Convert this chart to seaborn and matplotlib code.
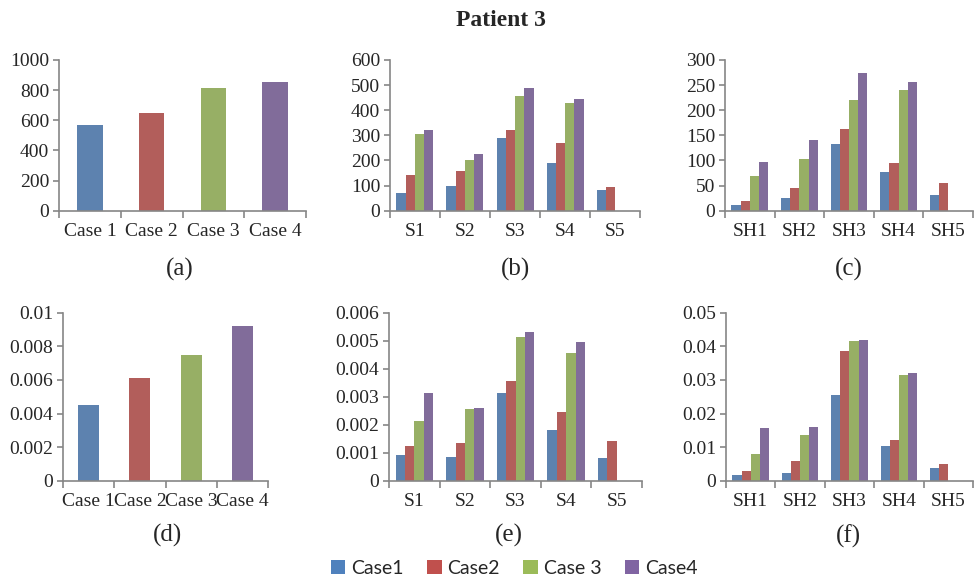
import pandas as pd
import seaborn as sns
import matplotlib
matplotlib.use('Agg')
import matplotlib.pyplot as plt
from matplotlib.patches import Patch

# values (Patient 3)
cases = ['Case1', 'Case2', 'Case 3', 'Case4']
case_ticks = ['Case 1', 'Case 2', 'Case 3', 'Case 4']
s_groups = ['S1', 'S2', 'S3', 'S4', 'S5']
sh_groups = ['SH1', 'SH2', 'SH3', 'SH4', 'SH5']

total_a = [569, 648, 814, 854]
total_d = [0.0045, 0.0061, 0.00748, 0.0092]

# one list per case, in group order; S5/SH5 only have Case1 and Case2
s_b = {
    'Case1': [70, 98, 290, 191, 81],
    'Case2': [142, 157, 322, 271, 93],
    'Case 3': [305, 202, 457, 427, None],
    'Case4': [322, 224, 490, 446, None],
}
sh_c = {
    'Case1': [12, 25, 132, 78, 31],
    'Case2': [19, 46, 162, 95, 56],
    'Case 3': [70, 102, 221, 240, None],
    'Case4': [97, 141, 275, 256, None],
}
s_e = {
    'Case1': [0.00092, 0.00085, 0.00315, 0.00181, 0.00081],
    'Case2': [0.00124, 0.00133, 0.00357, 0.00244, 0.00142],
    'Case 3': [0.00215, 0.00256, 0.00514, 0.00457, None],
    'Case4': [0.00315, 0.00260, 0.00532, 0.00494, None],
}
sh_f = {
    'Case1': [0.0017, 0.0022, 0.0254, 0.0102, 0.0038],
    'Case2': [0.0030, 0.0058, 0.0385, 0.0120, 0.0051],
    'Case 3': [0.0079, 0.0135, 0.0415, 0.0314, None],
    'Case4': [0.0156, 0.0160, 0.0418, 0.0322, None],
}

colors = ['#4F81BD', '#C0504D', '#9BBB59', '#8064A2']
axis_grey = '#868686'
serif = ['Liberation Serif', 'DejaVu Serif']

sns.set_style('white')
plt.rcParams['font.family'] = serif


def long_df(groups, data):
    rows = []
    for case in cases:
        for g, v in zip(groups, data[case]):
            rows.append({'group': g, 'case': case, 'value': v})
    return pd.DataFrame(rows)


def style_axis(ax, n, ymax, yticks, ylabels):
    for side in ['top', 'right']:
        ax.spines[side].set_visible(False)
    for side in ['left', 'bottom']:
        ax.spines[side].set_color(axis_grey)
        ax.spines[side].set_linewidth(1.2)
    ax.set_xlim(-0.5, n - 0.5)
    ax.set_ylim(0, ymax)
    ax.set_yticks(yticks)
    ax.set_yticklabels(ylabels)
    ax.set_xticks([i - 0.5 for i in range(n + 1)], minor=True)
    ax.tick_params(axis='x', which='major', length=0, pad=9, labelsize=14)
    ax.tick_params(axis='x', which='minor', length=5, width=1.2,
                   color=axis_grey, direction='out', bottom=True)
    ax.tick_params(axis='y', length=4, width=1.2, color=axis_grey,
                   direction='out', left=True, labelsize=14, pad=3)
    ax.set_xlabel('')
    ax.set_ylabel('')
    ax.grid(False)


fig = plt.figure(figsize=(9.74, 5.78), dpi=100)
fig.text(0.514, 0.965, 'Patient 3', ha='center', va='center',
         fontsize=17, fontweight='bold', family=serif)

# (a) totals
ax_a = fig.add_axes([0.0606, 0.6355, 0.2536, 0.2607])
df_a = pd.DataFrame({'case': case_ticks, 'value': total_a})
sns.barplot(data=df_a, x='case', y='value', hue='case', palette=colors,
            width=0.41, legend=False, ax=ax_a, edgecolor='none')
style_axis(ax_a, 4, 1000, [0, 200, 400, 600, 800, 1000],
           ['0', '200', '400', '600', '800', '1000'])

# (b)
ax_b = fig.add_axes([0.4004, 0.6355, 0.2567, 0.2607])
sns.barplot(data=long_df(s_groups, s_b), x='group', y='value', hue='case',
            hue_order=cases, palette=colors, width=0.74, gap=0,
            legend=False, ax=ax_b, edgecolor='none')
style_axis(ax_b, 5, 600, [0, 100, 200, 300, 400, 500, 600],
           ['0', '100', '200', '300', '400', '500', '600'])

# (c)
ax_c = fig.add_axes([0.7444, 0.6355, 0.2545, 0.2607])
sns.barplot(data=long_df(sh_groups, sh_c), x='group', y='value', hue='case',
            hue_order=cases, palette=colors, width=0.74, gap=0,
            legend=False, ax=ax_c, edgecolor='none')
style_axis(ax_c, 5, 300, [0, 50, 100, 150, 200, 250, 300],
           ['0', '50', '100', '150', '200', '250', '300'])

# (d)
ax_d = fig.add_axes([0.0647, 0.1683, 0.2105, 0.2907])
df_d = pd.DataFrame({'case': case_ticks, 'value': total_d})
sns.barplot(data=df_d, x='case', y='value', hue='case', palette=colors,
            width=0.41, legend=False, ax=ax_d, edgecolor='none')
style_axis(ax_d, 4, 0.01, [0, 0.002, 0.004, 0.006, 0.008, 0.01],
           ['0', '0.002', '0.004', '0.006', '0.008', '0.01'])

# (e)
ax_e = fig.add_axes([0.3994, 0.1683, 0.2598, 0.2907])
sns.barplot(data=long_df(s_groups, s_e), x='group', y='value', hue='case',
            hue_order=cases, palette=colors, width=0.74, gap=0,
            legend=False, ax=ax_e, edgecolor='none')
style_axis(ax_e, 5, 0.006, [0, 0.001, 0.002, 0.003, 0.004, 0.005, 0.006],
           ['0', '0.001', '0.002', '0.003', '0.004', '0.005', '0.006'])

# (f)
ax_f = fig.add_axes([0.7454, 0.1683, 0.2535, 0.2907])
sns.barplot(data=long_df(sh_groups, sh_f), x='group', y='value', hue='case',
            hue_order=cases, palette=colors, width=0.74, gap=0,
            legend=False, ax=ax_f, edgecolor='none')
style_axis(ax_f, 5, 0.05, [0, 0.01, 0.02, 0.03, 0.04, 0.05],
           ['0', '0.01', '0.02', '0.03', '0.04', '0.05'])

# panel letters
for x, y, lab in [(0.185, 0.533, '(a)'), (0.529, 0.533, '(b)'),
                  (0.871, 0.533, '(c)'), (0.172, 0.073, '(d)'),
                  (0.522, 0.073, '(e)'), (0.871, 0.073, '(f)')]:
    fig.text(x, y, lab, ha='center', va='center', fontsize=18, family=serif)

handles = [Patch(facecolor=c, edgecolor='none') for c in colors]
fig.legend(handles, cases, loc='center', bbox_to_anchor=(0.528, 0.017),
           ncol=4, frameon=False, handlelength=0.75, handleheight=0.75,
           handletextpad=0.3, columnspacing=1.2, borderpad=0,
           prop={'family': ['Lato', 'DejaVu Sans'], 'size': 14})

fig.savefig('out.png', dpi=100)
